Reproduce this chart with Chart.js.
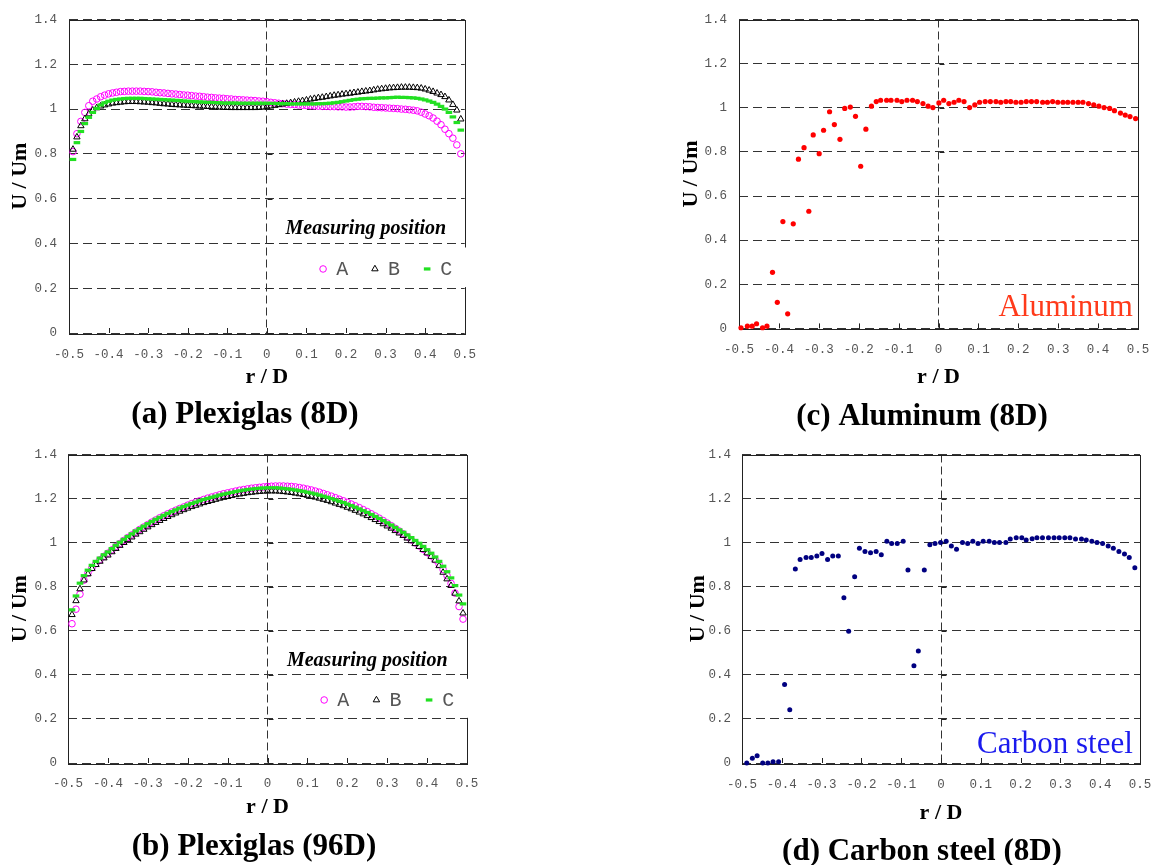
<!DOCTYPE html>
<html><head><meta charset="utf-8">
<script src="https://cdn.jsdelivr.net/npm/chart.js@4.4.1/dist/chart.umd.min.js"></script>
<style>
html,body{margin:0;padding:0;background:#fff;overflow:hidden;width:1152px;height:865px;position:relative;}
.p{position:absolute;}
</style></head><body>
<div class="p" id="wa" style="left:0;top:0;width:490px;height:434px"><canvas id="ca"></canvas></div>
<div class="p" id="wb" style="left:0;top:436px;width:508px;height:430px"><canvas id="cb"></canvas></div>
<div class="p" id="wc" style="left:660px;top:0;width:524px;height:436px"><canvas id="cc"></canvas></div>
<div class="p" id="wd" style="left:660px;top:436px;width:524px;height:435px"><canvas id="cd"></canvas></div>
<script>
// ---------------- DATA ----------------
const seriesNames = ['A', 'B', 'C'];
const captions = ['(a) Plexiglas (8D)', '(b) Plexiglas (96D)', '(c) Aluminum (8D)', '(d) Carbon steel (8D)'];
const xTitle = 'r / D';
const yTitle = 'U / Um';
const legendTitle = 'Measuring position';
const materialNotes = ['Aluminum', 'Carbon steel'];

const rPos = [-0.49,-0.48,-0.47,-0.46,-0.45,-0.44,-0.43,-0.42,-0.41,-0.40,
-0.39,-0.38,-0.37,-0.36,-0.35,-0.34,-0.33,-0.32,-0.31,-0.30,
-0.29,-0.28,-0.27,-0.26,-0.25,-0.24,-0.23,-0.22,-0.21,-0.20,
-0.19,-0.18,-0.17,-0.16,-0.15,-0.14,-0.13,-0.12,-0.11,-0.10,
-0.09,-0.08,-0.07,-0.06,-0.05,-0.04,-0.03,-0.02,-0.01,
0,
0.01,0.02,0.03,0.04,0.05,0.06,0.07,0.08,0.09,0.10,
0.11,0.12,0.13,0.14,0.15,0.16,0.17,0.18,0.19,0.20,
0.21,0.22,0.23,0.24,0.25,0.26,0.27,0.28,0.29,0.30,
0.31,0.32,0.33,0.34,0.35,0.36,0.37,0.38,0.39,0.40,
0.41,0.42,0.43,0.44,0.45,0.46,0.47,0.48,0.49];

// (a) Plexiglas 8D
const plexA8 = [0.81,0.89,0.945,0.985,1.015,1.035,1.045,1.055,1.062,1.068,
1.072,1.075,1.078,1.079,1.08,1.08,1.08,1.08,1.079,1.078,
1.077,1.075,1.073,1.072,1.07,1.068,1.067,1.065,1.063,1.062,
1.06,1.058,1.057,1.055,1.053,1.052,1.05,1.049,1.048,1.046,
1.045,1.043,1.042,1.041,1.04,1.039,1.038,1.036,1.035,
1.033,
1.03,1.028,1.026,1.024,1.022,1.021,1.02,1.018,1.017,1.016,
1.015,1.014,1.013,1.012,1.012,1.011,1.011,1.01,1.01,1.009,
1.009,1.01,1.012,1.012,1.011,1.01,1.008,1.007,1.006,1.005,
1.004,1.003,1.002,1.0,0.999,0.997,0.995,0.992,0.986,0.978,
0.97,0.96,0.946,0.93,0.91,0.89,0.87,0.84,0.80];
const plexB8 = [0.82,0.875,0.925,0.956,0.978,0.995,1.005,1.013,1.018,1.022,
1.026,1.028,1.03,1.032,1.033,1.033,1.033,1.032,1.031,1.03,
1.028,1.027,1.025,1.023,1.022,1.02,1.019,1.018,1.017,1.016,
1.015,1.014,1.013,1.012,1.011,1.01,1.009,1.008,1.007,1.007,
1.006,1.006,1.006,1.006,1.006,1.006,1.006,1.007,1.008,
1.01,
1.013,1.016,1.019,1.022,1.025,1.028,1.031,1.034,1.037,1.04,
1.044,1.047,1.05,1.052,1.055,1.058,1.061,1.063,1.066,1.068,
1.07,1.073,1.075,1.078,1.08,1.082,1.085,1.088,1.09,1.092,
1.094,1.095,1.096,1.097,1.097,1.097,1.096,1.095,1.093,1.089,
1.084,1.078,1.071,1.064,1.055,1.04,1.02,0.995,0.955];
const plexC8 = [0.775,0.85,0.9,0.935,0.963,0.985,1.003,1.018,1.028,1.035,
1.04,1.043,1.045,1.047,1.048,1.048,1.048,1.048,1.047,1.046,
1.045,1.044,1.043,1.042,1.041,1.04,1.039,1.038,1.036,1.035,
1.034,1.033,1.032,1.031,1.03,1.03,1.029,1.028,1.027,1.027,
1.027,1.027,1.026,1.026,1.026,1.026,1.026,1.026,1.026,
1.026,
1.025,1.025,1.024,1.024,1.024,1.023,1.023,1.023,1.023,1.023,
1.023,1.023,1.024,1.024,1.025,1.026,1.028,1.03,1.033,1.036,
1.039,1.042,1.044,1.046,1.047,1.048,1.048,1.049,1.05,1.05,
1.051,1.052,1.053,1.052,1.052,1.051,1.05,1.048,1.045,1.041,
1.036,1.03,1.022,1.012,1.0,0.985,0.965,0.94,0.906];

// (b) Plexiglas 96D
const plexA96 = [0.632,0.698,0.766,0.83,0.862,0.885,0.905,0.922,0.938,0.952,
0.967,0.982,0.996,1.01,1.023,1.035,1.048,1.06,1.071,1.082,
1.093,1.103,1.113,1.122,1.131,1.139,1.147,1.155,1.162,1.17,
1.177,1.184,1.19,1.196,1.202,1.207,1.212,1.217,1.222,1.226,
1.23,1.234,1.238,1.241,1.244,1.247,1.249,1.251,1.253,
1.255,
1.256,1.257,1.257,1.257,1.256,1.255,1.253,1.25,1.247,1.243,
1.239,1.234,1.229,1.223,1.217,1.211,1.204,1.197,1.19,1.183,
1.175,1.167,1.159,1.15,1.141,1.131,1.121,1.111,1.1,1.089,
1.077,1.065,1.053,1.04,1.027,1.013,0.999,0.985,0.97,0.955,
0.94,0.922,0.902,0.878,0.85,0.815,0.771,0.71,0.653];
const plexB96 = [0.673,0.736,0.79,0.83,0.858,0.882,0.9,0.915,0.93,0.943,
0.958,0.973,0.987,1.0,1.013,1.025,1.038,1.049,1.06,1.071,
1.081,1.091,1.1,1.109,1.118,1.126,1.134,1.142,1.149,1.156,
1.163,1.169,1.175,1.181,1.186,1.191,1.196,1.201,1.205,1.209,
1.213,1.217,1.22,1.223,1.226,1.228,1.23,1.232,1.233,
1.234,
1.234,1.234,1.233,1.231,1.229,1.227,1.224,1.221,1.218,1.214,
1.21,1.206,1.201,1.196,1.191,1.185,1.179,1.173,1.167,1.16,
1.153,1.146,1.138,1.13,1.122,1.113,1.104,1.095,1.085,1.075,
1.065,1.054,1.043,1.032,1.02,1.008,0.995,0.982,0.968,0.953,
0.937,0.92,0.895,0.865,0.835,0.805,0.77,0.735,0.68];
const plexC96 = [0.695,0.758,0.816,0.85,0.875,0.897,0.915,0.93,0.945,0.958,
0.973,0.988,1.002,1.015,1.028,1.04,1.053,1.064,1.075,1.086,
1.096,1.106,1.115,1.124,1.133,1.141,1.149,1.157,1.164,1.171,
1.178,1.184,1.19,1.196,1.201,1.206,1.211,1.216,1.22,1.224,
1.228,1.232,1.235,1.238,1.241,1.243,1.245,1.247,1.248,
1.249,
1.249,1.249,1.248,1.246,1.244,1.242,1.239,1.236,1.233,1.229,
1.225,1.221,1.216,1.211,1.206,1.2,1.194,1.188,1.182,1.175,
1.168,1.161,1.153,1.145,1.137,1.128,1.119,1.11,1.1,1.09,
1.08,1.069,1.058,1.047,1.035,1.023,1.01,0.997,0.983,0.968,
0.952,0.935,0.915,0.893,0.868,0.84,0.805,0.762,0.722];

// (c) Aluminum 8D
const rAl = [-0.495,-0.479,-0.467,-0.456,-0.441,-0.43,-0.416,-0.404,-0.39,-0.378,
-0.364,-0.351,-0.337,-0.325,-0.314,-0.299,-0.288,-0.273,-0.261,-0.247,
-0.235,-0.221,-0.208,-0.195,-0.182,-0.168,-0.156,-0.145,-0.13,-0.119,
-0.104,-0.092,-0.079,-0.065,-0.053,-0.039,-0.026,-0.014,0.001,0.013,
0.026,0.039,0.051,0.064,0.078,0.091,0.103,0.117,0.13,0.144,
0.156,0.169,0.181,0.194,0.207,0.22,0.233,0.246,0.261,0.273,
0.286,0.299,0.312,0.324,0.337,0.35,0.362,0.376,0.389,0.402,
0.415,0.429,0.441,0.456,0.468,0.48,0.494];
const uAl = [0.003,0.01,0.01,0.021,0.003,0.01,0.254,0.118,0.484,0.066,
0.474,0.767,0.819,0.531,0.877,0.792,0.898,0.982,0.924,0.857,
0.997,1.003,0.961,0.735,0.903,1.007,1.028,1.034,1.034,1.034,
1.034,1.028,1.034,1.034,1.028,1.019,1.007,1.001,1.022,1.034,
1.019,1.025,1.034,1.028,1.001,1.013,1.025,1.028,1.028,1.028,
1.025,1.028,1.028,1.025,1.025,1.028,1.028,1.028,1.025,1.025,
1.028,1.025,1.025,1.025,1.025,1.025,1.025,1.019,1.013,1.007,
1.001,0.997,0.987,0.976,0.967,0.96,0.951];

// (d) Carbon steel 8D
const rCs = [-0.488,-0.474,-0.462,-0.448,-0.435,-0.422,-0.408,-0.393,-0.38,-0.366,
-0.354,-0.339,-0.326,-0.312,-0.299,-0.285,-0.272,-0.258,-0.244,-0.232,
-0.217,-0.205,-0.191,-0.177,-0.163,-0.15,-0.136,-0.124,-0.11,-0.095,
-0.083,-0.068,-0.057,-0.042,-0.028,-0.015,-0.001,0.013,0.026,0.039,
0.054,0.067,0.08,0.093,0.106,0.121,0.134,0.147,0.163,0.174,
0.189,0.203,0.214,0.229,0.241,0.255,0.27,0.284,0.297,0.311,
0.324,0.338,0.353,0.365,0.379,0.392,0.406,0.42,0.433,0.447,
0.461,0.473,0.487];
const uCs = [0.0,0.022,0.033,0.0,0.0,0.006,0.006,0.356,0.242,0.88,
0.924,0.933,0.933,0.939,0.951,0.924,0.939,0.939,0.75,0.598,
0.845,0.975,0.96,0.954,0.96,0.945,1.006,0.996,0.996,1.006,
0.876,0.441,0.508,0.876,0.991,0.996,1.001,1.006,0.985,0.97,
1.001,0.996,1.006,0.996,1.006,1.006,1.001,1.001,1.001,1.016,
1.022,1.022,1.012,1.018,1.022,1.022,1.022,1.022,1.022,1.022,
1.022,1.016,1.016,1.012,1.006,1.001,0.996,0.985,0.975,0.96,
0.949,0.933,0.886];

// ---------------- HELPERS ----------------
function pts(xs, ys) { return xs.map((x, i) => ({x: x, y: ys[i]})); }
function fmt(v) { const n = Math.round(v * 10) / 10; return n === 0 ? '0' : String(n); }

const SERIF = '"Liberation Serif", "Times New Roman", serif';
const MONO = '"Liberation Mono", "Courier New", monospace';
const LINE = '#333';

const markerStyles = [
  {pointStyle: 'circle', pointRadius: 3.3, borderColor: '#ff00ff', backgroundColor: 'rgba(0,0,0,0)', borderWidth: 1, order: 2},
  {pointStyle: 'triangle', pointRadius: 3.7, borderColor: '#000000', backgroundColor: 'rgba(0,0,0,0)', borderWidth: 1, order: 1},
  {pointStyle: 'line', pointRadius: 3.3, borderColor: '#22e022', backgroundColor: '#22e022', borderWidth: 3.2, order: 0}
];

function plexSets(ys) {
  return ys.map((arr, i) => Object.assign({label: seriesNames[i], data: pts(rPos, arr), showLine: false, clip: false}, markerStyles[i]));
}

function decorPlugin(cfg) {
  return {
    id: 'decor',
    beforeDatasetsDraw(chart) {
      const ctx = chart.ctx, a = chart.chartArea, xs = chart.scales.x, ys = chart.scales.y;
      ctx.save();
      ctx.strokeStyle = '#222'; ctx.lineWidth = 1; ctx.setLineDash([]);
      ctx.strokeRect(Math.round(a.left) + 0.5, Math.round(a.top) + 0.5, Math.round(a.right - a.left), Math.round(a.bottom - a.top));
      ctx.beginPath();
      xs.ticks.forEach(t => {
        const px = Math.round(xs.getPixelForValue(t.value)) + 0.5;
        ctx.moveTo(px, a.bottom); ctx.lineTo(px, a.bottom - 5);
      });
      const x0 = Math.round(xs.getPixelForValue(0)) + 0.5;
      ys.ticks.forEach(t => {
        const py = Math.round(ys.getPixelForValue(t.value)) + 0.5;
        ctx.moveTo(x0, py); ctx.lineTo(x0 + 5, py);
      });
      ctx.stroke();
      ctx.restore();
    },
    afterDatasetsDraw(chart) {
      const ctx = chart.ctx, a = chart.chartArea, xs = chart.scales.x, ys = chart.scales.y;
      ctx.save();
      if (cfg.legend) {
        const L = cfg.legend;
        ctx.fillStyle = '#fff';
        const bx = xs.getPixelForValue(L.boxX0), by0 = ys.getPixelForValue(L.boxY1), by1 = ys.getPixelForValue(L.boxY0);
        ctx.fillRect(bx, by0, a.right + 4 - bx, by1 - by0);
        ctx.fillStyle = '#000';
        ctx.font = 'italic bold 20px ' + SERIF;
        ctx.textAlign = 'center'; ctx.textBaseline = 'middle';
        ctx.fillText(legendTitle, xs.getPixelForValue(L.titleX), ys.getPixelForValue(L.titleY));
        const iy = ys.getPixelForValue(L.itemY);
        chart.data.datasets.forEach((ds, i) => {
          const mx = xs.getPixelForValue(L.markX[i]);
          ctx.strokeStyle = ds.borderColor; ctx.fillStyle = ds.backgroundColor; ctx.lineWidth = ds.borderWidth;
          Chart.helpers.drawPoint(ctx, {pointStyle: ds.pointStyle, radius: ds.pointRadius, rotation: 0, borderWidth: ds.borderWidth}, mx, iy);
          ctx.fillStyle = '#555';
          ctx.font = '20px ' + MONO;
          ctx.textAlign = 'left';
          ctx.fillText(ds.label, xs.getPixelForValue(L.textX[i]), iy + 1);
        });
      }
      if (cfg.note) {
        ctx.fillStyle = cfg.note.color;
        ctx.font = '31px ' + SERIF;
        ctx.textAlign = 'right'; ctx.textBaseline = 'alphabetic';
        ctx.fillText(cfg.note.text, xs.getPixelForValue(cfg.note.x), ys.getPixelForValue(cfg.note.y));
      }
      ctx.restore();
    }
  };
}

function makePanel(id, datasets, p) {
  return new Chart(document.getElementById(id), {
    type: 'scatter',
    data: {datasets: datasets},
    plugins: [decorPlugin(p)],
    options: {
      responsive: true, maintainAspectRatio: false, animation: false, events: [],
      layout: {padding: {left: 0, right: 0, top: p.padTop, bottom: 0}},
      plugins: {
        legend: {display: false}, tooltip: {enabled: false},
        title: {display: true, position: 'bottom', text: p.caption, color: '#000',
          font: {family: SERIF, size: 31, weight: 'bold', lineHeight: 1.2}, padding: {top: 6, bottom: 0}}
      },
      scales: {
        x: {
          type: 'linear', min: -0.5, max: 0.5,
          afterFit(s) { s.height = p.xH; },
          ticks: {stepSize: 0.1, autoSkip: false, maxRotation: 0, padding: p.xTickPad, color: '#555',
            font: {family: MONO, size: 12.5}, callback: v => fmt(v)},
          grid: {drawTicks: false, lineWidth: 1,
            color: c => (c.tick && Math.abs(c.tick.value) < 1e-9) ? LINE : 'rgba(0,0,0,0)'},
          border: {display: false, dash: [8, 4]},
          title: {display: true, text: xTitle, color: '#000', font: {family: SERIF, size: 22, weight: 'bold', lineHeight: 1.2},
            padding: {top: 0, bottom: p.xTitlePad}}
        },
        y: {
          type: 'linear', min: 0, max: 1.4,
          afterFit(s) { s.width = p.yW; },
          ticks: {stepSize: 0.2, padding: p.yTickPad, color: '#555', font: {family: MONO, size: 12.5}, callback: v => fmt(v)},
          grid: {drawTicks: false, lineWidth: 1, color: LINE},
          border: {display: false, dash: [9, 5]},
          title: {display: true, text: yTitle, color: '#000', font: {family: SERIF, size: 22, weight: 'bold', lineHeight: 1.2},
            padding: {top: p.yTitlePad, bottom: 0}}
        },
        spacer: {
          type: 'linear', position: 'right', display: true,
          afterFit(s) { s.width = p.rightW; },
          ticks: {display: false}, grid: {display: false}, border: {display: false}
        }
      }
    }
  });
}

const plexLegend = {boxX0: 0.04, boxY0: 0.205, boxY1: 0.382, titleX: 0.25, titleY: 0.465, itemY: 0.286,
  markX: [0.142, 0.273, 0.405], textX: [0.175, 0.306, 0.438]};

makePanel('ca', plexSets([plexA8, plexB8, plexC8]), {
  caption: captions[0], padTop: 16, xH: 57.8, xTickPad: 14, xTitlePad: 0, yW: 69, yTickPad: 12, yTitlePad: 6.8, rightW: 13,
  legend: plexLegend});

makePanel('cb', plexSets([plexA96, plexB96, plexC96]), {
  caption: captions[1], padTop: 16, xH: 59.8, xTickPad: 13, xTitlePad: 2.6, yW: 68, yTickPad: 11, yTitlePad: 6.8, rightW: 41,
  legend: plexLegend});

makePanel('cc', [{label: materialNotes[0], data: pts(rAl, uAl), showLine: false, clip: false, pointStyle: 'circle', pointRadius: 2.6,
  borderWidth: 0, backgroundColor: '#ff0000', borderColor: '#ff0000'}], {
  caption: captions[2], padTop: 16, xH: 64.4, xTickPad: 14, xTitlePad: 2.2, yW: 79, yTickPad: 12, yTitlePad: 18.5, rightW: 46,
  note: {text: materialNotes[0], color: '#ff3a1a', x: 0.487, y: 0.058}});

makePanel('cd', [{label: materialNotes[1], data: pts(rCs, uCs), showLine: false, clip: false, pointStyle: 'circle', pointRadius: 2.5,
  borderWidth: 0, backgroundColor: '#000080', borderColor: '#000080'}], {
  caption: captions[3], padTop: 15, xH: 64.8, xTickPad: 14, xTitlePad: 1.6, yW: 82, yTickPad: 11, yTitlePad: 24.8, rightW: 44,
  note: {text: materialNotes[1], color: '#1a1aee', x: 0.482, y: 0.045}});
</script>
</body></html>
